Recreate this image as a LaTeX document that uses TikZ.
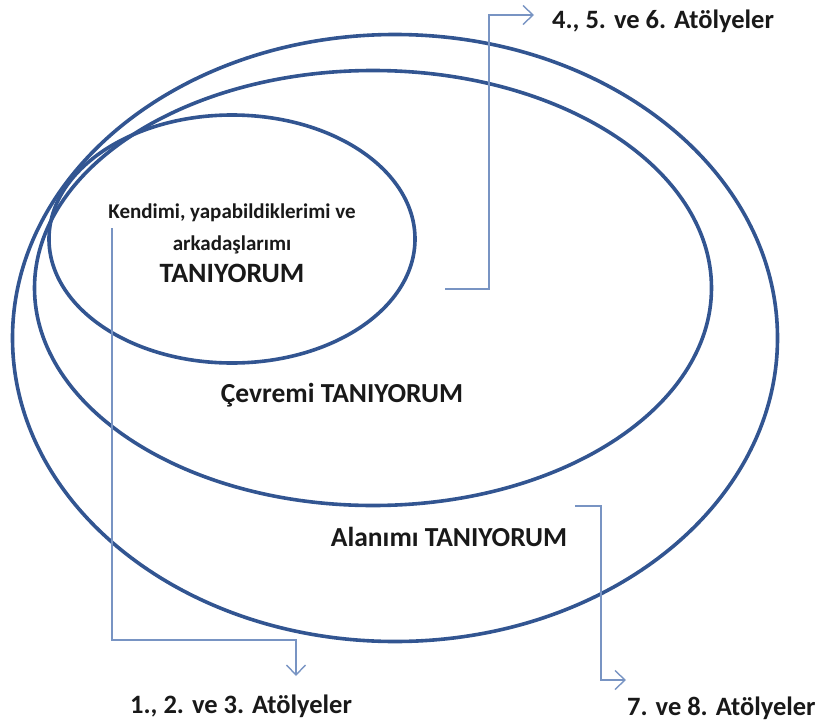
\documentclass[tikz,border=0pt]{standalone}
\usepackage{fontspec}
\setmainfont{Carlito}
\usetikzlibrary{arrows.meta,shapes.geometric}
\definecolor{ringblue}{RGB}{50,85,145}
\definecolor{connblue}{RGB}{120,148,195}
\tikzset{
  ring/.style={draw=ringblue,line width=3.6pt,ellipse,inner sep=0pt,outer sep=0pt},
  conn/.style={draw=connblue,line width=1.6pt},
  arr/.style={-{Straight Barb[length=10pt,width=19pt,line width=1.4pt]}},
  lbl/.style={font=\bfseries\fontsize{27.5}{30}\selectfont,inner sep=0pt,text=black!90},
  side/.style={font=\bfseries\fontsize{26.5}{30}\selectfont,inner sep=0pt,text=black!90,anchor=west},
  small/.style={font=\bfseries\fontsize{21}{24}\selectfont,inner sep=0pt,text=black!90},
}
\begin{document}
\begin{tikzpicture}[x=1pt,y=-1pt]
\useasboundingbox (0,0) rectangle (820,723);
% rings
\node[ring,minimum width=765pt,minimum height=607pt] (outer) at (395,338) {};
\node[ring,minimum width=677pt,minimum height=435pt] (middle) at (373,288) {};
\node[ring,minimum width=366pt,minimum height=248pt] (inner) at (232,239) {};
% texts
\node[small] (k1) at (232,213) {Kendimi, yapabildiklerimi ve};
\node[small] (k2) at (232,245) {arkadaşlarımı};
\node[lbl,font=\bfseries\fontsize{28}{30}\selectfont] (k3) at (232,273) {TANIYORUM};
\node[lbl] (cev) at (342,395) {Çevremi TANIYORUM};
\node[lbl] (alan) at (449,537) {Alanımı TANIYORUM};
\node[side] (t456) at (552,21) {4., 5. ve 6. Atölyeler};
\node[side] (t123) at (130,706) {1., 2. ve 3. Atölyeler};
\node[side] (t78) at (627,708) {7. ve 8. Atölyeler};
% connector coordinates
\coordinate (a1) at (445,289);
\coordinate (a2) at (489,289);
\coordinate (a3) at (489,15);
\coordinate (a4) at (534,15);
\coordinate (b1) at (112,228);
\coordinate (b2) at (112,640);
\coordinate (b3) at (296,640);
\coordinate (b4) at (296,676);
\coordinate (c1) at (575,506);
\coordinate (c2) at (601,506);
\coordinate (c3) at (601,680);
\coordinate (c4) at (626,680);
\draw[conn,arr] (a1) -- (a2) -- (a3) -- (a4);
\draw[conn,arr] (b1) -- (b2) -- (b3) -- (b4);
\draw[conn,arr] (c1) -- (c2) -- (c3) -- (c4);
\end{tikzpicture}
\end{document}
